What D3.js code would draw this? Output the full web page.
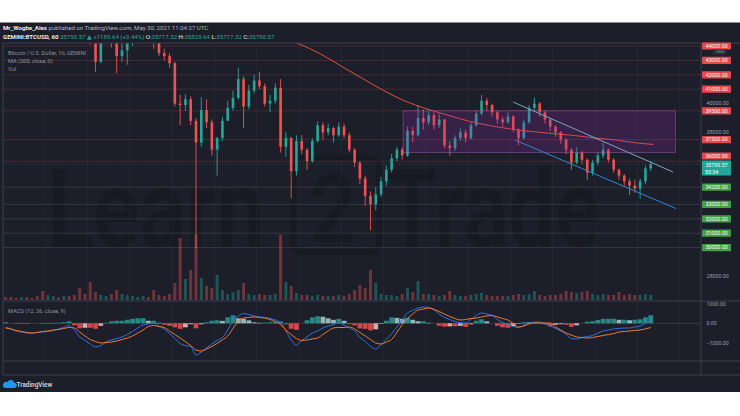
<!DOCTYPE html>
<html><head><meta charset="utf-8">
<script src="https://cdn.jsdelivr.net/npm/d3@7"></script>
<style>body{margin:0;background:#fff}svg{display:block}text{font-family:Roboto,"DejaVu Sans",sans-serif}</style>
</head><body><svg id="c" width="740" height="416"></svg>
<script>
// ---------- data (3-hour candles, starting 2021-05-15 00:00 UTC) ----------
const firstOpen = 50000;
const closes = [49800,49200,48700,49100,48300,47600,47100,46900,
47600,48300,47900,48400,47900,47100,45600,45300,
44600,42900,44900,45400,44300,43300,43700,44200,
44900,45300,45600,45200,44300,43500,43300,42800,
40000,39900,40300,38800,37300,39550,38700,36800,
37600,38800,39700,40400,41700,39800,40900,41600,
41200,40000,40200,41100,37000,37600,35300,37400,
36800,36000,37400,38500,38000,38300,37800,38400,
37800,36800,35900,34800,33600,33000,33700,34600,
35400,36200,36800,36400,38100,37800,39000,38700,
39200,38500,38900,37100,36900,37600,38000,37600,
38500,39300,40200,39900,39400,38900,38700,39100,
38200,37600,38700,39700,40000,39400,38900,38400,
38000,37500,36800,35900,36600,36100,35200,35900,
36400,36800,36100,35400,35000,34600,34300,34100,
34600,35500,35790.57];
const highs = [50500,49900,49400,49500,49200,48500,47800,47300,
48100,48800,48600,49000,48500,48000,47200,46100,
45800,44800,45400,45900,45500,44500,44300,44600,
45300,45800,45900,45800,45300,44400,43800,43500,
42900,40600,40650,40500,39000,40460,40300,38900,
37700,39100,40200,40900,42500,41900,41300,42000,
42200,41400,40600,41400,41700,38000,37700,37800,
37800,36900,37600,38750,38700,38600,38400,38700,
38600,38000,36900,36000,35000,33900,34200,34900,
35700,36500,37000,37000,38400,38400,39900,39600,
39500,39400,39300,38900,37400,37800,38300,38200,
38700,39500,40600,40400,40000,39500,39100,39400,
39200,38300,38900,39900,40400,40100,39500,39000,
38500,38100,37600,36900,37000,36700,36200,36100,
36600,37300,36900,36200,35500,35100,34800,34700,
34800,35700,36000];
const lows = [49300,48900,48400,48500,47900,47300,46700,46500,
46700,47400,47600,47800,47500,46800,44800,44500,
44100,42200,42800,44600,43900,42100,42900,42700,
44000,44700,45000,44800,43800,43300,43000,42500,
39800,38500,39500,38500,29970,37000,38300,36400,
35000,37400,38800,39500,40300,38300,39600,40700,
41000,39800,39400,40000,36600,36300,33400,35000,
36500,35400,35900,37300,37500,37800,37300,37700,
37600,36600,35600,34400,32900,31200,32600,33500,
34300,35200,36000,36100,36300,37300,37700,38200,
38500,38200,38300,36900,36400,36700,37400,37300,
37500,38400,39200,39500,39100,38600,38400,38600,
38000,37100,37500,38600,39500,39100,38600,38100,
37700,37200,36500,35400,35800,35800,34700,35000,
35700,36200,35900,35200,34700,34300,33650,33800,
33400,34400,35300];
const volumes = [75,75,50,75,75,50,100,225,
125,100,75,100,100,125,300,150,
450,200,125,100,150,250,150,125,
100,75,100,75,250,125,100,150,
425,1550,525,750,1625,550,350,300,
625,250,150,200,250,425,150,125,
150,125,125,150,1625,450,350,175,
125,125,100,125,100,100,100,125,
100,150,250,375,300,750,425,150,
125,125,100,150,300,200,475,150,
150,125,100,125,225,125,100,100,
125,150,175,125,100,100,100,100,
125,150,125,150,225,125,100,125,
125,150,225,200,175,200,225,150,
125,150,125,125,200,125,150,125,
125,150,125];
const macdLine = [-190,-290,-395,-445,-500,-500,-470,-445,
-420,-370,-290,-215,-115,-345,-700,-880,
-1060,-1215,-1140,-960,-855,-780,-700,-575,
-420,-240,-85,-35,15,-140,-290,-525,
-780,-1035,-1140,-1190,-1625,-1470,-1265,-1060,
-880,-730,-345,145,375,500,450,375,
325,300,245,170,40,-395,-855,-1115,
-880,-700,-500,-395,-240,-140,-60,15,
-85,-240,-395,-730,-935,-1190,-1320,-1090,
-830,-525,-190,170,530,655,785,835,
810,710,475,300,195,90,40,15,
195,400,530,475,400,195,40,-60,
-165,-215,-85,15,65,65,-35,-140,
-265,-395,-575,-780,-805,-730,-675,-625,
-500,-395,-345,-290,-265,-240,-240,-190,
-140,15,195];
const signalLine = [-240,-290,-370,-420,-470,-500,-470,-420,
-395,-345,-320,-265,-215,-240,-445,-650,
-830,-935,-1010,-985,-960,-910,-830,-755,
-650,-500,-345,-165,-115,-165,-215,-395,
-575,-755,-935,-1140,-1370,-1420,-1320,-1190,
-1035,-855,-650,-265,120,270,300,325,
300,270,195,90,-60,-345,-575,-780,
-880,-855,-805,-755,-575,-395,-240,-215,
-215,-190,-290,-470,-650,-830,-1010,-1060,
-960,-830,-470,-60,245,475,680,730,
785,710,605,475,350,245,170,195,
245,270,325,375,400,325,245,170,
-10,-190,-140,-35,15,15,15,15,
-190,-345,-500,-600,-700,-730,-755,-730,
-675,-625,-575,-525,-445,-420,-395,-370,
-345,-290,-215];
const maTimes = ["2021-05-21T00:00Z","2021-05-21T12:00Z","2021-05-22T00:00Z","2021-05-22T12:00Z","2021-05-23T00:00Z","2021-05-23T12:00Z","2021-05-24T00:00Z","2021-05-24T12:00Z","2021-05-25T00:00Z","2021-05-25T12:00Z","2021-05-26T00:00Z","2021-05-26T12:00Z","2021-05-27T00:00Z","2021-05-27T12:00Z","2021-05-28T00:00Z","2021-05-28T12:00Z","2021-05-29T00:00Z","2021-05-29T12:00Z","2021-05-30T00:00Z","2021-05-30T09:00Z"];
const maValues = [45300,44700,44140,43460,42600,41740,40910,40180,39650,39210,38790,38480,38235,38060,37920,37785,37610,37470,37260,37160];
const redLevels = [44000,43000,42000,41000,39500,37500,36000];
const greenLevels = [34200,33000,32000,31000,30000];
const priceTicks = [40000,38000,28000];
const macdTicks = [1000,0,-1000];
const dayTicks = [15,16,17,18,19,20,21,22,23,24,25,26,27,28,29,30,31];
const channelUpper = [["2021-05-27T01:25Z",40110],["2021-05-30T20:10Z",35250]];
const channelLower = [["2021-05-27T02:30Z",37470],["2021-05-30T21:50Z",32716]];
const zoneTimes = ["2021-05-24T11:00Z","2021-05-30T21:30Z"];
const zonePrices = [39500,36600];
const lastPrice = 35790.57;

// ---------- layout ----------
const svg = d3.select("#c");
const L=3, R=701, T=43, MB=301, MCB=361, AB=375;
const BG="#1c1f2a", BORDER="#3b3f4b", UP="#26a69a", DN="#ef5350";
svg.append("rect").attr("width",740).attr("height",416).attr("fill","#fff");
svg.append("rect").attr("x",0).attr("y",22.5).attr("width",740).attr("height",369.5).attr("fill",BG);

const defs = svg.append("defs");
defs.append("clipPath").attr("id","cm").append("rect").attr("x",L).attr("y",T).attr("width",R-L).attr("height",MB-T);
defs.append("clipPath").attr("id","cd").append("rect").attr("x",L).attr("y",MB).attr("width",R-L).attr("height",MCB-MB);
defs.append("clipPath").attr("id","ct").append("rect").attr("x",L).attr("y",MCB).attr("width",R-L).attr("height",AB-MCB);

const H3 = 3*3600e3;
const t0 = Date.UTC(2021,4,15);
const x = d3.scaleUtc().domain([new Date(t0), new Date(Date.UTC(2021,4,31))]).range([3, 3+16*42.3]);
const y = d3.scaleLinear().domain([30000,44000]).range([247.6,46]);
const yv = d3.scaleLinear().domain([0,1625]).range([300,235]);
const ym = d3.scaleLinear().domain([-1000,1000]).range([342.8,303.8]);

const bars = closes.map((c,i)=>({t:new Date(t0+i*H3+H3/2), o:i?closes[i-1]:firstOpen, c, h:highs[i], l:lows[i], v:volumes[i], m:macdLine[i], s:signalLine[i]}));
bars.forEach((b,i)=>{ b.hist=b.m-b.s; b.prev=i?bars[i-1].m-bars[i-1].s:b.hist; });

// ---------- main pane ----------
const gm = svg.append("g").attr("clip-path","url(#cm)");
gm.selectAll(".vg").data(dayTicks).join("line").attr("x1",d=>x(new Date(Date.UTC(2021,4,d)))).attr("x2",d=>x(new Date(Date.UTC(2021,4,d))))
  .attr("y1",T).attr("y2",MB).attr("stroke","rgba(255,255,255,0.035)");
// watermark
const wm = gm.append("g").attr("opacity",0.14).attr("fill","#000").attr("font-weight",600);
wm.append("rect").attr("x",293).attr("y",158).attr("width",86).attr("height",94).attr("rx",9).attr("fill","none").attr("stroke","#000").attr("stroke-width",6);
wm.append("text").attr("transform","translate(47,247) scale(0.78,1)").attr("font-size",110).text("Learn");
wm.append("text").attr("transform","translate(310,242) scale(0.85,1)").attr("font-size",94).text("2");
wm.append("text").attr("transform","translate(386,247) scale(0.76,1)").attr("font-size",110).text("Trade");
// volume
gm.selectAll(".vol").data(bars).join("rect").attr("x",d=>x(d.t)-1.5).attr("width",3)
  .attr("y",d=>yv(d.v)).attr("height",d=>300-yv(d.v))
  .attr("fill",d=>d.c>=d.o?"rgba(38,166,154,0.4)":"rgba(239,83,80,0.4)");
// candles
const cg = gm.selectAll(".cd").data(bars).join("g");
cg.append("line").attr("x1",d=>x(d.t)).attr("x2",d=>x(d.t)).attr("y1",d=>y(d.h)).attr("y2",d=>y(d.l))
  .attr("stroke",d=>d.c>=d.o?UP:DN).attr("stroke-width",0.9);
cg.append("rect").attr("x",d=>x(d.t)-1.3).attr("width",2.6)
  .attr("y",d=>y(Math.max(d.o,d.c))).attr("height",d=>Math.max(0.8,Math.abs(y(d.o)-y(d.c))))
  .attr("fill",d=>d.c>=d.o?UP:DN);
// MA 200
gm.append("path").datum(maTimes.map((t,i)=>[new Date(t),maValues[i]]))
  .attr("d",d3.line().x(d=>x(d[0])).y(d=>y(d[1])).curve(d3.curveMonotoneX))
  .attr("fill","none").attr("stroke","#e0523f").attr("stroke-width",1);
// zone
gm.append("rect").attr("x",x(new Date(zoneTimes[0]))).attr("width",x(new Date(zoneTimes[1]))-x(new Date(zoneTimes[0])))
  .attr("y",y(zonePrices[0])).attr("height",y(zonePrices[1])-y(zonePrices[0]))
  .attr("fill","rgba(156,39,176,0.22)").attr("stroke","rgba(186,104,200,0.5)").attr("stroke-width",0.8);
// horizontal levels
gm.selectAll(".rl").data(redLevels).join("line").attr("x1",L).attr("x2",R).attr("y1",d=>y(d)).attr("y2",d=>y(d))
  .attr("stroke","rgba(242,84,90,0.2)").attr("stroke-width",1);
gm.selectAll(".gl").data(greenLevels).join("line").attr("x1",L).attr("x2",R).attr("y1",d=>y(d)).attr("y2",d=>y(d))
  .attr("stroke","rgba(150,165,160,0.18)").attr("stroke-width",1);
// channel
[[channelUpper,"#7fa3c4"],[channelLower,"#2f86d6"]].forEach(([c,col])=>{
  gm.append("line").attr("x1",x(new Date(c[0][0]))).attr("y1",y(c[0][1])).attr("x2",x(new Date(c[1][0]))).attr("y2",y(c[1][1]))
    .attr("stroke",col).attr("stroke-width",1);
});
gm.append("line").attr("x1",L).attr("x2",R).attr("y1",y(lastPrice)).attr("y2",y(lastPrice))
  .attr("stroke","rgba(38,166,154,0.35)").attr("stroke-dasharray","1,2");

// legend
const lg = svg.append("g").attr("fill","#8f939d").attr("font-size",5.6);
lg.append("text").attr("x",8).attr("y",55).text("Bitcoin / U.S. Dollar, 1h, GEMINI");
lg.append("text").attr("x",8).attr("y",63).text("MA (200, close, 0)");
lg.append("text").attr("x",8).attr("y",71).text("Vol");

// ---------- MACD pane ----------
const gd = svg.append("g").attr("clip-path","url(#cd)");
gd.selectAll(".vg").data(dayTicks).join("line").attr("x1",d=>x(new Date(Date.UTC(2021,4,d)))).attr("x2",d=>x(new Date(Date.UTC(2021,4,d))))
  .attr("y1",MB).attr("y2",MCB).attr("stroke","rgba(255,255,255,0.035)");
gd.append("line").attr("x1",L).attr("x2",R).attr("y1",ym(0)).attr("y2",ym(0)).attr("stroke","rgba(255,255,255,0.12)");
gd.selectAll(".hb").data(bars).join("rect").attr("x",d=>x(d.t)-2.4).attr("width",4.8)
  .attr("y",d=>Math.min(ym(0),ym(d.hist))).attr("height",d=>Math.abs(ym(d.hist)-ym(0)))
  .attr("fill",d=>d.hist>=0?(d.hist>=d.prev?"#26a69a":"#b2dfdb"):(d.hist>d.prev?"#ffcdd2":"#ff5252"))
  .attr("opacity",0.8);
gd.append("path").datum(bars).attr("d",d3.line().x(d=>x(d.t)).y(d=>ym(d.m)).curve(d3.curveMonotoneX))
  .attr("fill","none").attr("stroke","#2f6fe6").attr("stroke-width",1);
gd.append("path").datum(bars).attr("d",d3.line().x(d=>x(d.t)).y(d=>ym(d.s)).curve(d3.curveMonotoneX))
  .attr("fill","none").attr("stroke","#f07a2c").attr("stroke-width",1);
svg.append("text").attr("x",8).attr("y",313).attr("font-size",5.6).attr("fill","#8f939d").text("MACD (12, 26, close, 9)");

// ---------- borders ----------
const bd = svg.append("g").attr("stroke",BORDER).attr("stroke-width",1).attr("fill","none");
[[L,T,740,T],[L,MB,740,MB],[L,MCB,740,MCB],[L,AB,740,AB],[L,T,L,AB],[R,T,R,AB]].forEach(a=>
  bd.append("line").attr("x1",a[0]).attr("y1",a[1]).attr("x2",a[2]).attr("y2",a[3]));

// ---------- time axis ----------
const ta = svg.append("g").attr("clip-path","url(#ct)").attr("transform",`translate(0,${MCB})`)
  .call(d3.axisBottom(x).tickValues(dayTicks.map(d=>new Date(Date.UTC(2021,4,d)))).tickFormat(d3.utcFormat("%-d")).tickSize(0).tickPadding(4.5));
ta.select(".domain").remove();
ta.selectAll("text").attr("fill","#b2b5be").attr("font-size",6).attr("font-family","Roboto");

// ---------- price axis labels ----------
const pa = svg.append("g").attr("font-size",5.3);
function boxLabel(yy, bg, txt){
  pa.append("rect").attr("x",702).attr("y",yy-3.6).attr("width",29).attr("height",7.2).attr("rx",0.8).attr("fill",bg);
  pa.append("text").attr("x",716.5).attr("y",yy).attr("dy","0.35em").attr("text-anchor","middle").attr("fill","#fff").text(txt);
}
priceTicks.forEach(p=>pa.append("text").attr("x",706.5).attr("y",y(p)).attr("dy","0.35em").attr("fill","#9a9ea8").text(d3.format(".2f")(p)));
redLevels.forEach(p=>boxLabel(p===36000?156:y(p),"#e5484d",d3.format(".2f")(p)));
greenLevels.forEach(p=>boxLabel(y(p),"#43a047",d3.format(".2f")(p)));
pa.append("rect").attr("x",713).attr("y",49.5).attr("width",14).attr("height",5).attr("fill","#2a2e39");
pa.append("text").attr("x",720).attr("y",52).attr("dy","0.35em").attr("text-anchor","middle").attr("font-size",4).attr("fill","#9a9ea8").text("USD");
pa.append("rect").attr("x",702).attr("y",y(lastPrice)-3.8).attr("width",29).attr("height",15).attr("rx",0.8).attr("fill","#26a69a");
pa.append("text").attr("x",716.5).attr("y",y(lastPrice)+0.6).attr("dy","0.35em").attr("text-anchor","middle").attr("fill","#fff").text(d3.format(".2f")(lastPrice));
pa.append("text").attr("x",705).attr("y",y(lastPrice)+7.6).attr("dy","0.35em").attr("fill","#fff").text("55:34");
macdTicks.forEach(v=>pa.append("text").attr("x",706.5).attr("y",ym(v)).attr("dy","0.35em").attr("fill","#9a9ea8").text(d3.format(".2f")(v)));

// ---------- header ----------
const h1 = svg.append("text").attr("x",3).attr("y",30).attr("font-size",6.1).attr("fill","#b2b5be");
h1.append("tspan").attr("fill","#e8e9ec").attr("font-weight",700).text("Mr_Wogbe_Alex");
h1.append("tspan").text(" published on TradingView.com, May 30, 2021 11:04:27 UTC");
const h2 = svg.append("text").attr("x",3).attr("y",39).attr("font-size",6.1).attr("fill","#26a69a");
h2.append("tspan").attr("fill","#e8e9ec").attr("font-weight",700).text("GEMINI:BTCUSD, 60 ");
h2.append("tspan").text("35790.57 ▲ +1189.64 (+3.44%) ");
[["O:","35717.32"],["H:","35829.64"],["L:","35717.32"],["C:","35790.57"]].forEach(([k,v])=>{
  h2.append("tspan").attr("fill","#e8e9ec").text(k);
  h2.append("tspan").text(v+" ");
});

// ---------- TradingView logo ----------
svg.append("path").attr("d","M5,388 h9 a2.6,2.6 0 0 0 0.3,-5.2 a3.6,3.6 0 0 0 -6.8,-0.8 a2.4,2.4 0 0 0 -2.5,6 z").attr("fill","#2196f3");
svg.append("text").attr("x",16.5).attr("y",387).attr("font-size",6.4).attr("font-weight",600).attr("fill","#d1d4dc").text("TradingView");
</script></body></html>
